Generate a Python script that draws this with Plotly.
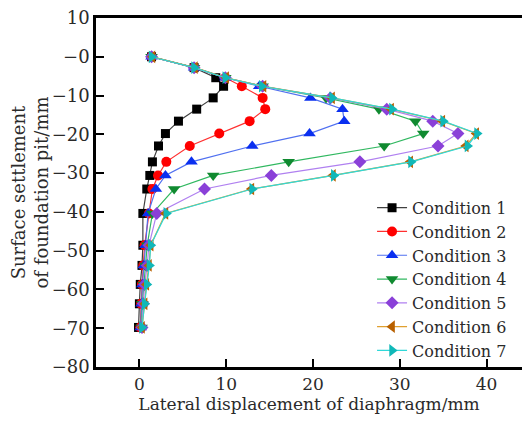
import plotly.graph_objects as go

depth = [0, -2.8, -5.4, -7.6, -10.6, -13.5, -16.6, -19.8, -23.0, -27.1, -30.6, -34.1,
         -40.4, -48.6, -53.8, -58.7, -63.7, -69.8]

cond1 = [1.4, 6.3, 8.8, 9.7, 8.5, 6.6, 4.5, 3.0, 2.2, 1.5, 1.2, 0.85, 0.4, 0.4, 0.3, 0.1, 0.0, -0.1]
cond2 = [1.4, 6.3, 9.9, 11.8, 14.2, 14.5, 12.7, 9.2, 5.8, 3.1, 2.15, 1.5, 1.1, 0.6, 0.45, 0.3, 0.2, 0.1]
cond3 = [1.4, 6.3, 9.9, 13.8, 19.7, 23.4, 23.6, 19.6, 13.0, 6.0, 3.0, 1.9, 1.0, 0.7, 0.5, 0.35, 0.25, 0.15]
cond4 = [1.4, 6.3, 9.9, 14.2, 21.5, 27.6, 31.8, 32.7, 28.2, 17.2, 8.5, 4.0, 1.5, 0.9, 0.7, 0.5, 0.35, 0.25]
cond5 = [1.4, 6.3, 9.9, 14.2, 22.0, 28.5, 33.8, 36.7, 34.4, 25.4, 15.2, 7.5, 2.0, 1.1, 0.9, 0.6, 0.45, 0.3]
cond6 = [1.5, 6.4, 10.0, 14.3, 22.2, 29.0, 34.9, 38.8, 37.6, 31.2, 22.3, 12.9, 3.0, 1.3, 1.1, 0.8, 0.6, 0.3]
cond7 = [1.4, 6.3, 9.9, 14.1, 22.2, 29.1, 35.0, 38.9, 37.8, 31.3, 22.4, 13.0, 3.1, 1.3, 1.15, 0.85, 0.6, 0.3]

names = ["Condition 1", "Condition 2", "Condition 3", "Condition 4",
         "Condition 5", "Condition 6", "Condition 7"]
series = [cond1, cond2, cond3, cond4, cond5, cond6, cond7]

y_tickvals = [10, 0, -10, -20, -30, -40, -50, -60, -70, -80]
y_ticktext = ["10", "−0", "−10", "−20", "−30", "−40", "−50", "−60", "−70", "−80"]
x_tickvals = [0, 10, 20, 30, 40]

line_colors = ["#404040", "#ff3030", "#5070f0", "#30b860", "#b080f0", "#e0a030", "#30d8d8"]
marker_colors = ["#000000", "#ff0000", "#0a2ff0", "#108a30", "#8a40d8", "#b86000", "#10b8b8"]
symbols = ["square", "circle", "triangle-up", "triangle-down", "diamond", "triangle-left", "triangle-right"]
sizes = [9, 10, 11, 11, 10, 11, 11]

FONT = "DejaVu Serif"
TXT = "#2a2a2a"

fig = go.Figure()
for nm, xs, lc, mc, sym, sz in zip(names, series, line_colors, marker_colors, symbols, sizes):
    fig.add_trace(go.Scatter(
        x=xs, y=depth, name=nm, mode="lines+markers",
        line=dict(color=lc, width=1.2),
        marker=dict(symbol=sym, color=mc, size=sz, line=dict(width=0)),
    ))

# page body has an 8px margin on every side, so the figure is kept inside the window
fig.update_layout(
    width=514, height=408,
    margin=dict(l=88, r=0, t=10, b=49, autoexpand=False),
    paper_bgcolor="white", plot_bgcolor="white",
    font=dict(family=FONT, size=18, color=TXT),
    showlegend=True,
    legend=dict(
        x=0.648, y=0.505, xanchor="left", yanchor="top",
        bgcolor="rgba(0,0,0,0)", borderwidth=0,
        font=dict(family=FONT, size=16, color=TXT),
        itemsizing="trace", tracegroupgap=0,
    ),
    xaxis=dict(
        range=[-5, 44.08], tickvals=x_tickvals, automargin=False,
        showline=True, linecolor="black", linewidth=2.5, mirror=True,
        ticks="inside", ticklen=8, tickwidth=2, tickcolor="black",
        showgrid=False, zeroline=False, ticklabeloverflow="allow",
        title=dict(text="Lateral displacement of diaphragm/mm", standoff=1,
                   font=dict(family=FONT, size=17, color=TXT)),
        tickfont=dict(family=FONT, size=17, color=TXT),
    ),
    yaxis=dict(
        range=[-80, 10], tickvals=y_tickvals, ticktext=y_ticktext, automargin=False,
        showline=True, linecolor="black", linewidth=2.5, mirror=False,
        ticks="inside", ticklen=8, tickwidth=2, tickcolor="black",
        showgrid=False, zeroline=False, ticklabeloverflow="allow",
        title=dict(text="Surface settlement<br>of foundation pit/mm", standoff=0,
                   font=dict(family=FONT, size=18, color=TXT)),
        tickfont=dict(family=FONT, size=18, color=TXT),
    ),
)

fig.write_html("out.html")
